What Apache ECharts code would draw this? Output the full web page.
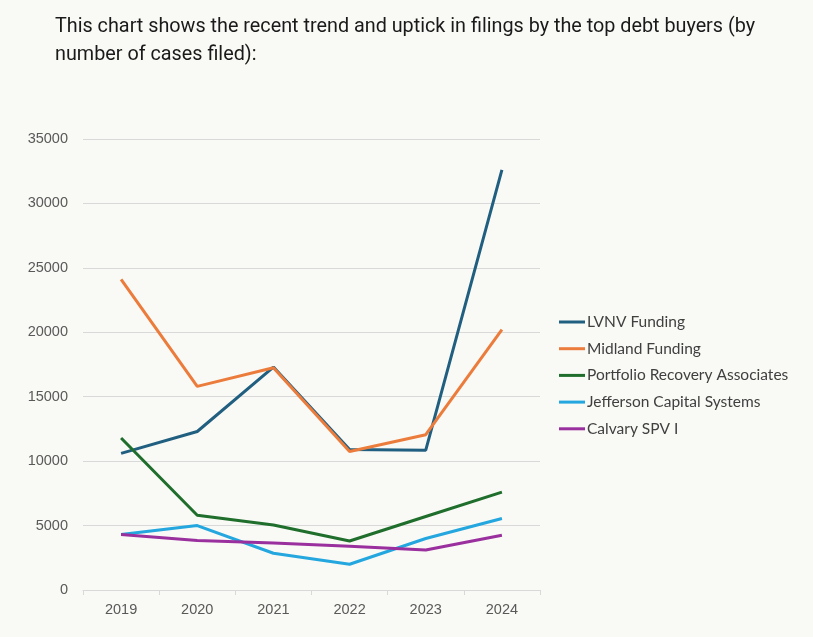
<!DOCTYPE html>
<html>
<head>
<meta charset="utf-8">
<script src="https://cdn.jsdelivr.net/npm/echarts@6/dist/echarts.min.js"></script>
<style>
html,body{margin:0;padding:0;background:#f9f9f5;}
#chart{width:813px;height:637px;}
</style>
</head>
<body>
<div id="chart"></div>
<script>
const years = ['2019','2020','2021','2022','2023','2024'];
const lvnv = [10600, 12300, 17300, 10900, 10850, 32600];
const midland = [24100, 15800, 17250, 10750, 12050, 20200];
const portfolio = [11800, 5800, 5050, 3800, 5700, 7600];
const jefferson = [4300, 5000, 2850, 2000, 4000, 5550];
const calvary = [4300, 3850, 3650, 3400, 3100, 4250];
const yTicks = [0, 5000, 10000, 15000, 20000, 25000, 30000, 35000];

const seriesDefs = [
  {name: 'LVNV Funding', data: lvnv, color: '#215f80'},
  {name: 'Midland Funding', data: midland, color: '#ec7c3c'},
  {name: 'Portfolio Recovery Associates', data: portfolio, color: '#1f6e2c'},
  {name: 'Jefferson Capital Systems', data: jefferson, color: '#24a6de'},
  {name: 'Calvary SPV I', data: calvary, color: '#9a2f9e'}
];

const chart = echarts.init(document.getElementById('chart'));
chart.setOption({
  backgroundColor: '#f9f9f5',
  animation: false,
  title: {
    text: 'This chart shows the recent trend and uptick in filings by the top debt buyers (by\nnumber of cases filed):',
    left: 50,
    top: 8,
    textStyle: {
      fontFamily: 'Roboto',
      fontSize: 19.8,
      fontWeight: 'normal',
      color: '#1a1a1a',
      lineHeight: 28
    }
  },
  legend: {
    orient: 'vertical',
    left: 559,
    top: 314,
    padding: 0,
    itemWidth: 26,
    itemHeight: 3,
    itemGap: 10.7,
    icon: 'rect',
    textStyle: {fontFamily: 'Lato', fontSize: 15.5, color: '#404040', padding: [0, 0, 0, -3]},
    data: seriesDefs.map(s => s.name)
  },
  grid: {left: 83, right: 273, top: 139, bottom: 47, containLabel: false},
  xAxis: {
    type: 'category',
    data: years,
    boundaryGap: true,
    axisLine: {lineStyle: {color: '#d9d9d9', width: 1}},
    axisTick: {show: true, length: 5, lineStyle: {color: '#d9d9d9'}},
    axisLabel: {color: '#595959', fontFamily: 'Liberation Sans', fontSize: 14.5, margin: 12}
  },
  yAxis: {
    type: 'value',
    min: 0,
    max: 35000,
    interval: 5000,
    axisLine: {show: false},
    axisTick: {show: false},
    splitLine: {lineStyle: {color: '#d9d9d9', width: 1}},
    axisLabel: {color: '#595959', fontFamily: 'Liberation Sans', fontSize: 14.5, margin: 15,
      formatter: v => yTicks.includes(v) ? String(v) : ''}
  },
  series: seriesDefs.map(s => ({
    name: s.name,
    type: 'line',
    data: s.data,
    symbol: 'none',
    lineStyle: {color: s.color, width: 3},
    itemStyle: {color: s.color}
  }))
});
</script>
</body>
</html>
